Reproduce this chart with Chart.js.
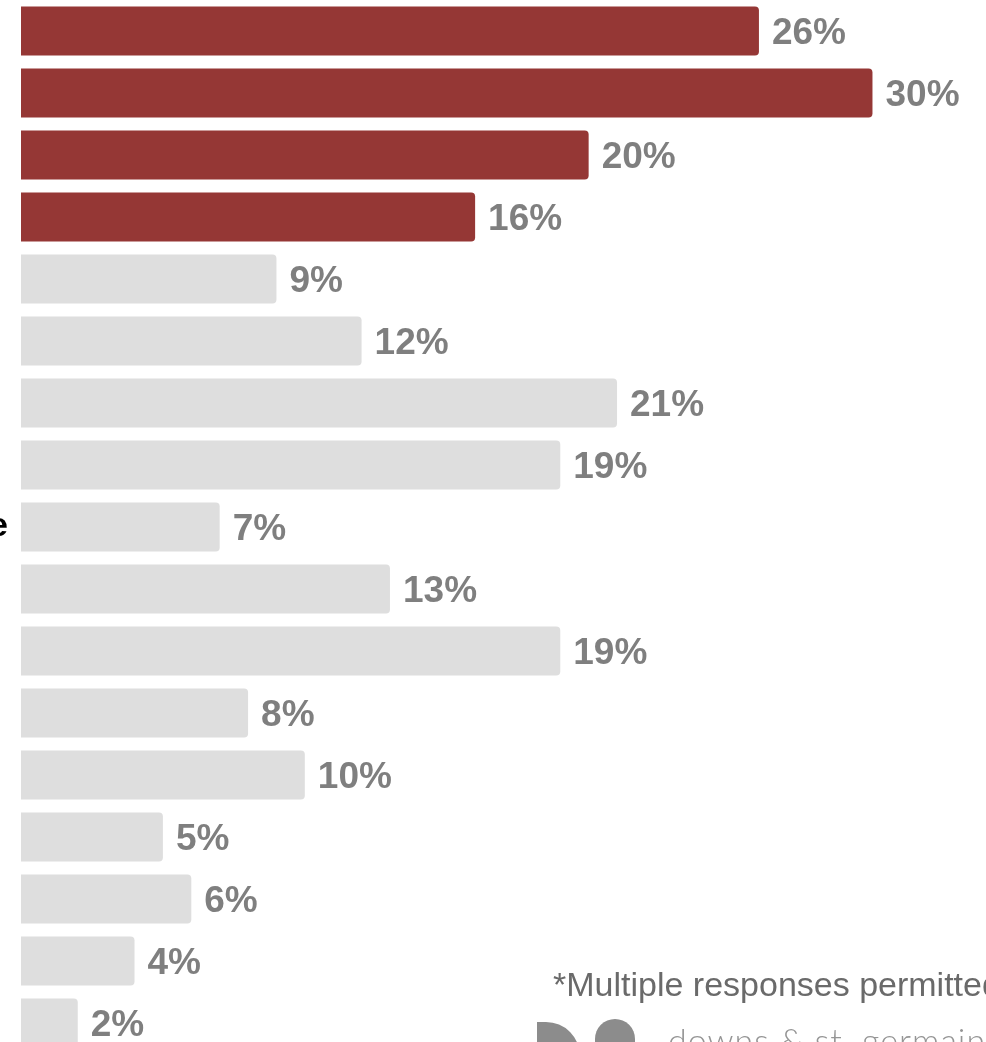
<!DOCTYPE html>
<html>
<head>
<meta charset="utf-8">
<script src="https://cdn.jsdelivr.net/npm/chart.js@4"></script>
<style>
    body {
        margin: 0;
        overflow: hidden;
        background: #fff;
    }
    #wrap {
        position: relative;
        width: 986px;
        height: 1042px;
        overflow: hidden;
    }
    #note {
        position: absolute;
        left: 553px;
        top: 965px;
        font-family: "Liberation Sans", Arial, sans-serif;
        font-size: 34px;
        color: #6a6a6a;
        white-space: nowrap;
    }
    #brand {
        position: absolute;
        left: 668px;
        top: 1019px;
        font-family: Lato, "Open Sans", sans-serif;
        font-weight: 300;
        font-size: 34px;
        letter-spacing: 1px;
        color: #959595;
        white-space: nowrap;
    }
    .logo {
        position: absolute;
        background: #8c8c8c;
    }
    #logoD {
        left: 537px;
        top: 1022px;
        width: 43px;
        height: 40px;
        border-radius: 0 34px 0 0;
    }
    #logoS {
        left: 595px;
        top: 1019px;
        width: 40px;
        height: 40px;
        border-radius: 50% 50% 0 0;
    }
</style>
</head>
<body>
<div id="wrap">
    <canvas id="myBarChart" width="986" height="1054"></canvas>
    <div id="note">*Multiple responses permitted</div>
    <div class="logo" id="logoD"></div>
    <div class="logo" id="logoS"></div>
    <div id="brand">downs &amp; st. germain</div>
</div>

<script>
// category labels (only the tail of the long one shows at the left edge)
var categories = ['', '', '', '', '', '', '', '', 'e', '', '', '', '', '', '', '', ''];
// share of responses, percent
var values = [26, 30, 20, 16, 9, 12, 21, 19, 7, 13, 19, 8, 10, 5, 6, 4, 2];
// first four answers highlighted
var highlightCount = 4;

var barColors = values.map(function (v, i) {
    return i < highlightCount ? '#953735' : '#dedede';
});

// value label at the end of every bar
var valueLabels = {
    id: 'valueLabels',
    afterDatasetsDraw: function (chart) {
        var ctx = chart.ctx;
        var meta = chart.getDatasetMeta(0);
        ctx.save();
        ctx.font = 'bold 37px "Liberation Sans", Arial, sans-serif';
        ctx.fillStyle = '#7f7f7f';
        ctx.textAlign = 'left';
        ctx.textBaseline = 'alphabetic';
        meta.data.forEach(function (bar, i) {
            ctx.fillText(values[i] + '%', bar.x + 13, bar.y + 13);
        });
        ctx.restore();
    }
};

var ctx = document.getElementById('myBarChart').getContext('2d');
var myBarChart = new Chart(ctx, {
    type: 'bar',
    data: {
        labels: categories,
        datasets: [{
            data: values,
            backgroundColor: barColors,
            borderRadius: 4,
            borderSkipped: 'start',
            barPercentage: 0.79,
            categoryPercentage: 1
        }]
    },
    options: {
        indexAxis: 'y',
        responsive: false,
        animation: false,
        devicePixelRatio: 1,
        layout: {
            padding: 0
        },
        plugins: {
            legend: { display: false },
            tooltip: { enabled: false }
        },
        scales: {
            x: {
                display: false,
                min: 0,
                max: 34
            },
            y: {
                grid: { display: false, drawTicks: false },
                border: { display: false },
                ticks: {
                    color: '#000',
                    padding: 13,
                    font: { family: '"Liberation Sans", Arial, sans-serif', size: 34, weight: 'bold' }
                },
                afterFit: function (scale) {
                    // bars fill the full height, no room kept for tick text
                    scale.width = 21;
                    scale.paddingTop = 0;
                    scale.paddingBottom = 0;
                }
            }
        }
    },
    plugins: [valueLabels]
});
</script>
</body>
</html>
